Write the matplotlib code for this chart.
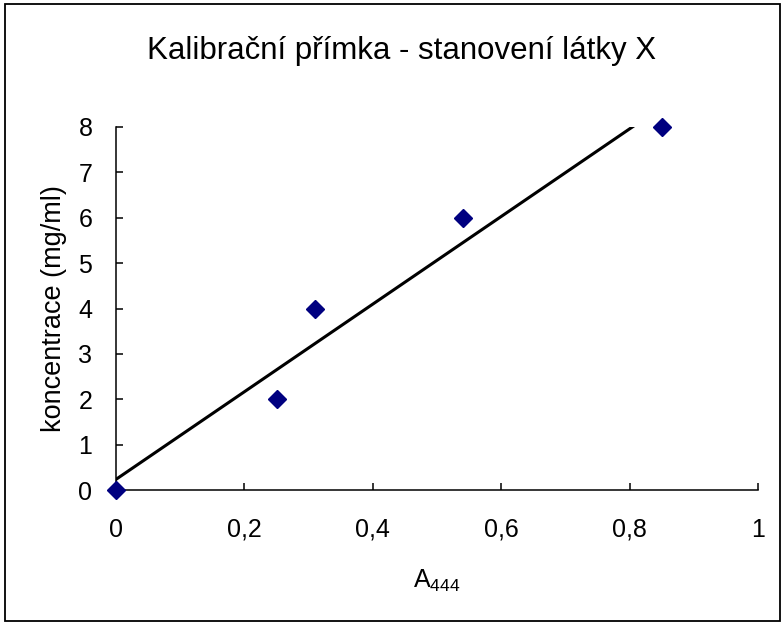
import numpy as np
import matplotlib
matplotlib.use("Agg")
import matplotlib.pyplot as plt
from matplotlib.patches import Rectangle

# Data
absorbance = [0.0, 0.25, 0.31, 0.54, 0.85]
concentration = [0, 2, 4, 6, 8]
x_ticks = [0, 0.2, 0.4, 0.6, 0.8, 1.0]
x_tick_labels = ["0", "0,2", "0,4", "0,6", "0,8", "1"]
y_ticks = [0, 1, 2, 3, 4, 5, 6, 7, 8]

plt.rcParams['font.family'] = ['Liberation Sans', 'DejaVu Sans']
plt.rcParams['mathtext.fontset'] = 'custom'
plt.rcParams['mathtext.rm'] = 'Liberation Sans'
plt.rcParams['mathtext.it'] = 'Liberation Sans'

fig = plt.figure(figsize=(7.82, 6.23), dpi=100)
ax = fig.add_axes([116/782, 133/623, 642/782, 363/623])

# trend line (linear fit)
slope, intercept = np.polyfit(absorbance, concentration, 1)
xl = np.array([0.0, 1.0])
ax.plot(xl, slope * xl + intercept, color='black', lw=2.2, zorder=2)

ax.plot(absorbance, concentration, linestyle='none', marker='D',
        markersize=9.5, color='#000080', zorder=3, clip_on=False)

ax.set_xlim(0, 1)
ax.set_ylim(0, 8)
ax.set_xticks(x_ticks)
ax.set_xticklabels(x_tick_labels)
ax.set_yticks(y_ticks)

for s in ['top', 'right']:
    ax.spines[s].set_visible(False)
for s in ['left', 'bottom']:
    ax.spines[s].set_linewidth(1.1)
    ax.spines[s].set_color('black')

ax.tick_params(axis='both', direction='in', length=5, width=1.1, labelsize=18, colors='black')
ax.tick_params(axis='x', pad=20)
ax.tick_params(axis='y', pad=17)

ax.set_xlabel(r'A$_{\mathrm{444}}$', fontsize=18, labelpad=19)
ax.set_ylabel('koncentrace (mg/ml)', fontsize=19.5, labelpad=8)

fig.text(402/782, 1 - 59/623, 'Kalibrační přímka - stanovení látky X',
         ha='center', va='baseline', fontsize=22.5)

fig.patches.append(Rectangle((5/782, 2/623), 775/782, 617/623, transform=fig.transFigure,
                             fill=False, edgecolor='black', lw=1.3))

fig.savefig('out.png', dpi=100)
